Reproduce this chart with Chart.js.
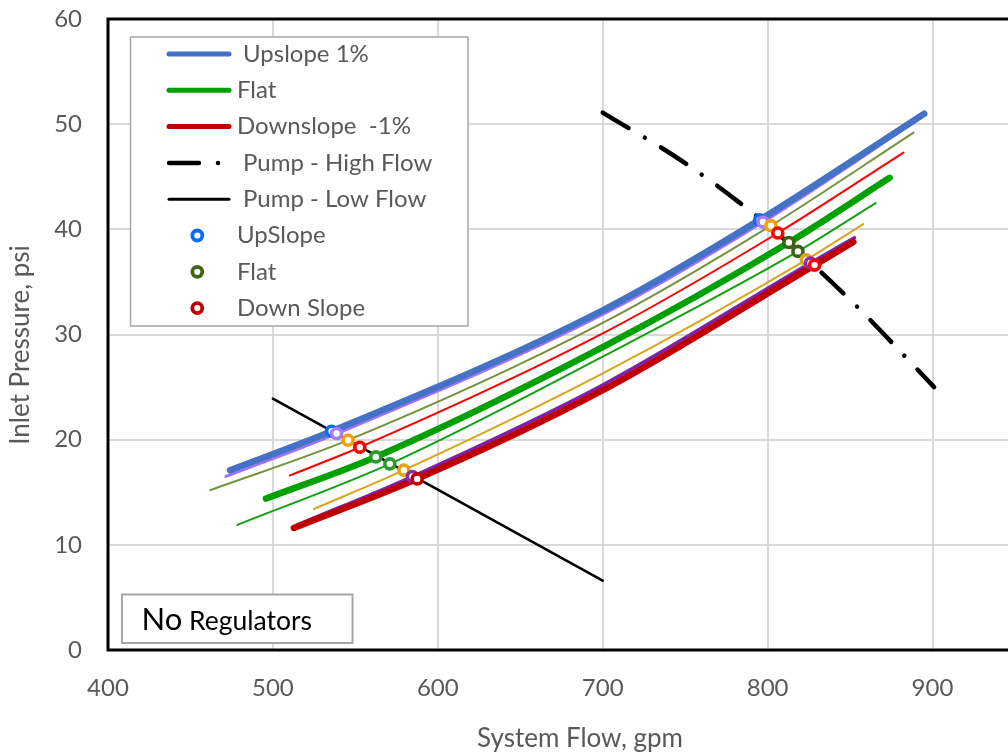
<!DOCTYPE html>
<html>
<head>
<meta charset="utf-8">
<title>Inlet Pressure vs System Flow</title>
<script src="https://cdn.jsdelivr.net/npm/chart.js@4/dist/chart.umd.min.js"></script>
<style>
  html, body { margin: 0; padding: 0; overflow: hidden; background: #ffffff; }
  #wrap { position: relative; width: 1106px; height: 756px; }
</style>
</head>
<body>
<div id="wrap"><canvas id="chart" width="1106" height="756"></canvas></div>
<script>
// ---- axis ticks ----
const xTickValues = [400, 500, 600, 700, 800, 900, 1000];
const yTickValues = [0, 10, 20, 30, 40, 50, 60];

// ---- system curves: flow (gpm) / inlet pressure (psi) ----
const upslopeFlow = [474, 535.6, 700, 795.2, 895];
const upslopePsi  = [17.1, 20.8, 32.3, 40.9, 51.0];

const upslopeBFlow = [471.5, 538.6, 700, 797.2, 890];
const upslopeBPsi  = [16.5, 20.58, 31.9, 40.7, 50.3];

const upslopeCFlow = [462, 545.6, 700, 802, 888.5];
const upslopeCPsi  = [15.2, 19.95, 31.1, 40.35, 49.2];

const flatAFlow = [510.3, 552.7, 700, 806.2, 882.4];
const flatAPsi  = [16.6, 19.28, 30.1, 39.65, 47.3];

const flatFlow = [495.8, 562.4, 700, 812.9, 874];
const flatPsi  = [14.4, 18.36, 28.8, 38.75, 44.9];

const flatCFlow = [478.4, 570.9, 700, 818.4, 865.5];
const flatCPsi  = [11.9, 17.7, 27.9, 37.9, 42.5];

const downslopeAFlow = [524.8, 579.4, 700, 823.4, 858];
const downslopeAPsi  = [13.4, 17.1, 26.3, 37.1, 40.5];

const downslopeBFlow = [515, 584.6, 700, 826, 852.7];
const downslopeBPsi  = [11.9, 16.5, 25.2, 36.8, 39.2];

const downslopeFlow = [512.7, 587.5, 700, 828.5, 852];
const downslopePsi  = [11.6, 16.27, 24.7, 36.6, 38.8];

// ---- pump curves ----
const pumpHighFlow = [700, 750, 800, 850, 901];
const pumpHighPsi  = [51.1, 46.3, 40.4, 33.3, 25.0];

const pumpLowFlow = [500, 700];
const pumpLowPsi  = [23.9, 6.6];

// ---- operating points (pump curve meets system curve) ----
const upPointFlow   = [535.6, 538.6, 545.6, 795.2, 797.2, 802.0];
const upPointPsi    = [20.8, 20.58, 19.95, 40.9, 40.7, 40.35];
const upPointColors = ['#0A6CFF', '#A77BFF', '#F2A000', '#0A6CFF', '#A77BFF', '#F2A000'];

const flatPointFlow   = [552.7, 562.4, 570.9, 806.2, 812.9, 818.4];
const flatPointPsi    = [19.28, 18.36, 17.7, 39.65, 38.75, 37.9];
const flatPointColors = ['#FF0000', '#2A9A2A', '#2A9A2A', '#FF0000', '#3E6516', '#3E6516'];

const downPointFlow   = [579.4, 584.6, 587.5, 823.4, 826.0, 828.5];
const downPointPsi    = [17.1, 16.5, 16.27, 37.1, 36.8, 36.6];
const downPointColors = ['#E6A214', '#8A2BB0', '#C00000', '#E6A214', '#8A2BB0', '#FF0000'];

const TEXT_GREY = '#595959';
Chart.defaults.font.family = 'Lato, "Open Sans", sans-serif';

function toPoints(flow, psi) {
  return flow.map((q, i) => ({ x: q, y: psi[i] }));
}

function curve(label, flow, psi, color, width, order, extra) {
  return Object.assign({
    label: label,
    data: toPoints(flow, psi),
    showLine: true,
    borderColor: color,
    backgroundColor: color,
    borderWidth: width,
    pointRadius: 0,
    pointHoverRadius: 0,
    cubicInterpolationMode: 'monotone',
    borderCapStyle: 'round',
    borderJoinStyle: 'round',
    fill: false,
    order: order
  }, extra || {});
}

function points(label, flow, psi, colors, keyColor, keyRow, order) {
  return {
    label: label,
    data: toPoints(flow, psi),
    showLine: false,
    pointRadius: 5,
    pointHoverRadius: 5,
    pointBorderWidth: 3.6,
    pointBackgroundColor: '#ffffff',
    pointBorderColor: colors,
    order: order,
    keyColor: keyColor,
    keyRow: keyRow,
    keyTextX: 237
  };
}

// lower order is painted later (on top)
const datasets = [
  points('UpSlope', upPointFlow, upPointPsi, upPointColors, '#0A6CFF', 5, 2),
  points('Flat', flatPointFlow, flatPointPsi, flatPointColors, '#3E6516', 6, 1),
  points('Down Slope', downPointFlow, downPointPsi, downPointColors, '#C00000', 7, 0),

  curve('Pump - High Flow', pumpHighFlow, pumpHighPsi, '#000000', 4.5, 3,
        { borderDash: [30, 19, 0.01, 19], keyRow: 3, keyWidth: 4.5, keyTextX: 243 }),
  curve('Pump - Low Flow', pumpLowFlow, pumpLowPsi, '#000000', 2.5, 3,
        { keyRow: 4, keyWidth: 3, keyTextX: 243 }),

  curve('Upslope 1%', upslopeFlow, upslopePsi, '#4472C4', 6.5, 4,
        { keyRow: 0, keyWidth: 5, keyTextX: 243 }),
  curve('Upslope B', upslopeBFlow, upslopeBPsi, '#A070FF', 3, 5),
  curve('Upslope C', upslopeCFlow, upslopeCPsi, '#76923C', 2, 5),
  curve('Flat A', flatAFlow, flatAPsi, '#FF0000', 2, 5),
  curve('Flat', flatFlow, flatPsi, '#00A000', 6.5, 4,
        { keyRow: 1, keyWidth: 5, keyTextX: 237 }),
  curve('Flat C', flatCFlow, flatCPsi, '#14A014', 2, 5),
  curve('Downslope A', downslopeAFlow, downslopeAPsi, '#D9A520', 2, 5),
  curve('Downslope B', downslopeBFlow, downslopeBPsi, '#7A22A8', 3.5, 5),
  curve('Downslope  -1%', downslopeFlow, downslopePsi, '#C00000', 6.5, 4,
        { keyRow: 2, keyWidth: 5, keyTextX: 237 })
];

// Black frame round the plot area
const plotFrame = {
  id: 'plotFrame',
  afterDatasetsDraw(chart) {
    const { ctx, chartArea: a } = chart;
    ctx.save();
    ctx.strokeStyle = '#000000';
    ctx.lineWidth = 3;
    ctx.strokeRect(a.left, a.top, a.right - a.left, a.bottom - a.top);
    ctx.restore();
  }
};

// Boxed key in the upper-left of the plot
const insetKey = {
  id: 'insetKey',
  afterDraw(chart) {
    const ctx = chart.ctx;
    const bx = 130.5, by = 37, bw = 337.5, bh = 289;
    ctx.save();
    ctx.fillStyle = '#ffffff';
    ctx.fillRect(bx, by, bw, bh);
    ctx.strokeStyle = '#A6A6A6';
    ctx.lineWidth = 1.5;
    ctx.strokeRect(bx, by, bw, bh);

    const rows = chart.data.datasets
      .filter(d => d.keyRow !== undefined)
      .sort((a, b) => a.keyRow - b.keyRow);
    rows.forEach(d => {
      const y = 54 + d.keyRow * 36.3;
      if (d.showLine) {
        ctx.beginPath();
        ctx.setLineDash(d.borderDash || []);
        ctx.lineCap = 'round';
        ctx.strokeStyle = d.borderColor;
        ctx.lineWidth = d.keyWidth;
        ctx.moveTo(169, y);
        ctx.lineTo(229, y);
        ctx.stroke();
        ctx.setLineDash([]);
      } else {
        ctx.beginPath();
        ctx.arc(197.3, y, 5, 0, Math.PI * 2);
        ctx.fillStyle = '#ffffff';
        ctx.fill();
        ctx.lineWidth = 3.8;
        ctx.strokeStyle = d.keyColor;
        ctx.stroke();
      }
      ctx.fillStyle = TEXT_GREY;
      ctx.font = '24px Lato';
      ctx.textAlign = 'left';
      ctx.textBaseline = 'middle';
      ctx.fillText(d.label, d.keyTextX, y);
    });
    ctx.restore();
  }
};

// "No Regulators" note box and axis titles
const captions = {
  id: 'captions',
  afterDraw(chart) {
    const ctx = chart.ctx;
    ctx.save();
    ctx.fillStyle = '#ffffff';
    ctx.fillRect(122, 594.5, 230.5, 48.5);
    ctx.strokeStyle = '#A6A6A6';
    ctx.lineWidth = 2;
    ctx.strokeRect(122, 594.5, 230.5, 48.5);
    ctx.fillStyle = '#000000';
    ctx.textBaseline = 'alphabetic';
    ctx.textAlign = 'left';
    ctx.font = '31px Lato';
    ctx.fillText('No', 141.5, 629.5);
    ctx.font = '26.5px Lato';
    ctx.fillText('Regulators', 189, 629.5);

    ctx.fillStyle = TEXT_GREY;
    ctx.font = '26px Lato';
    ctx.textAlign = 'center';
    ctx.fillText('System Flow, gpm', 580, 747);

    ctx.translate(28.5, 345);
    ctx.rotate(-Math.PI / 2);
    ctx.fillText('Inlet Pressure, psi', 0, 0);
    ctx.restore();
  }
};

new Chart(document.getElementById('chart'), {
  type: 'scatter',
  data: { datasets: datasets },
  options: {
    responsive: false,
    animation: false,
    events: [],
    layout: { padding: { left: 0, top: 19, right: 2, bottom: 0 } },
    plugins: {
      legend: { display: false },
      tooltip: { enabled: false }
    },
    scales: {
      x: {
        type: 'linear',
        min: xTickValues[0],
        max: xTickValues[xTickValues.length - 1],
        afterBuildTicks: s => { s.ticks = xTickValues.map(v => ({ value: v })); },
        afterFit: s => { s.height = 106; s.paddingLeft = 0; s.paddingRight = 0; },
        grid: { color: '#D9D9D9', lineWidth: 2, drawTicks: false },
        border: { display: false },
        ticks: { color: TEXT_GREY, font: { size: 24 }, padding: 24, maxRotation: 0 }
      },
      y: {
        type: 'linear',
        min: yTickValues[0],
        max: yTickValues[yTickValues.length - 1],
        afterBuildTicks: s => { s.ticks = yTickValues.map(v => ({ value: v })); },
        afterFit: s => { s.width = 108; s.paddingTop = 0; s.paddingBottom = 0; },
        grid: { color: '#D9D9D9', lineWidth: 2, drawTicks: false },
        border: { display: false },
        ticks: { color: TEXT_GREY, font: { size: 24 }, padding: 26 }
      }
    }
  },
  plugins: [plotFrame, insetKey, captions]
});
</script>
</body>
</html>
